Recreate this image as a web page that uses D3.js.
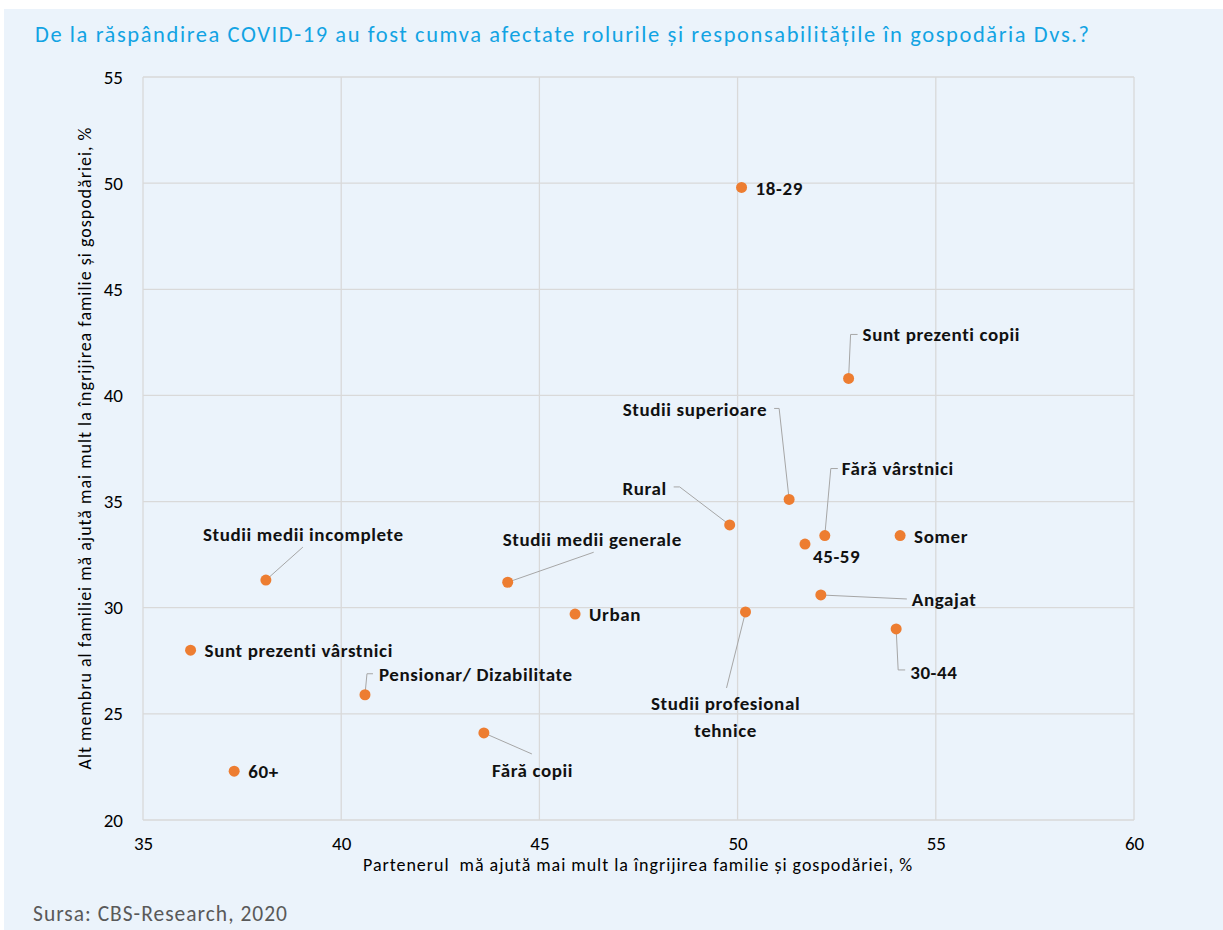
<!DOCTYPE html>
<html>
<head>
<meta charset="utf-8">
<script src="https://cdn.jsdelivr.net/npm/d3@7"></script>
<style>
  html, body { margin: 0; padding: 0; background: #ffffff; }
  svg { display: block; }
  text { font-family: Carlito, Calibri, Lato, "Open Sans", sans-serif; }
</style>
</head>
<body>
<svg id="chart" width="1223" height="930"></svg>
<script>
// ---- data ----
const categories = [
  "18-29", "Sunt prezenti copii", "Studii superioare", "Rural", "Fără vârstnici",
  "45-59", "Somer", "Angajat", "Studii profesional tehnice", "30-44",
  "Studii medii incomplete", "Studii medii generale", "Urban", "Sunt prezenti vârstnici",
  "Pensionar/ Dizabilitate", "Fără copii", "60+"
];
const xValues = [50.1, 52.8, 51.3, 49.8, 52.2, 51.7, 54.1, 52.1, 50.2, 54.0, 38.1, 44.2, 45.9, 36.2, 40.6, 43.6, 37.3];
const yValues = [49.8, 40.8, 35.1, 33.9, 33.4, 33.0, 33.4, 30.6, 29.8, 29.0, 31.3, 31.2, 29.7, 28.0, 25.9, 24.1, 22.3];
const xTicks = [35, 40, 45, 50, 55, 60];
const yTicks = [20, 25, 30, 35, 40, 45, 50, 55];
const titleText = "De la răspândirea COVID-19 au fost cumva afectate rolurile și responsabilitățile în gospodăria Dvs.?";
const xAxisTitle = "Partenerul  mă ajută mai mult la îngrijirea familie și gospodăriei, %";
const yAxisTitle = "Alt membru al familiei mă ajută mai mult la îngrijirea familie și gospodăriei, %";
const sourceText = "Sursa: CBS-Research, 2020";

// ---- label layout (pixel offsets from the point) ----
const labelLayout = [
  { dx: 14, dy: 1, anchor: "start" },
  { dx: 14, dy: -44, anchor: "start", leader: [[0,0],[2,-44],[9,-44]] },
  { dx: -22, dy: -90, anchor: "end", leader: [[0,0],[-10,-91],[-15,-91]] },
  { dx: -63, dy: -37, anchor: "end", leader: [[0,0],[-50,-38],[-56,-38]] },
  { dx: 17, dy: -67, anchor: "start", leader: [[0,0],[6,-67],[13,-67]] },
  { dx: 8, dy: 12, anchor: "start" },
  { dx: 14, dy: 1, anchor: "start" },
  { dx: 91, dy: 4, anchor: "start", leader: [[0,0],[86,4]] },
  { dx: -20, dy: 91, anchor: "middle", lines: ["Studii profesional", "tehnice"], leader: [[0,0],[-19,76]] },
  { dx: 14, dy: 43, anchor: "start", leader: [[0,0],[2,41],[9,41]] },
  { dx: -63, dy: -46, anchor: "start", leader: [[0,0],[37,-33]] },
  { dx: -5, dy: -43, anchor: "start", leader: [[0,0],[86,-30]] },
  { dx: 14, dy: 0, anchor: "start" },
  { dx: 14, dy: 0, anchor: "start" },
  { dx: 14, dy: -20, anchor: "start", leader: [[0,0],[2,-21],[8,-21]] },
  { dx: 8, dy: 37, anchor: "start", leader: [[0,0],[48,21]] },
  { dx: 14, dy: 0, anchor: "start" }
];

const svg = d3.select("#chart");
const W = 1223, H = 930;

// background panel
svg.append("rect").attr("x", 4).attr("y", 9).attr("width", W - 4).attr("height", H - 9).attr("fill", "#EBF3FB");

const margin = { left: 143, right: 1134, top: 77, bottom: 820 };
const x = d3.scaleLinear().domain([35, 60]).range([margin.left, margin.right]);
const y = d3.scaleLinear().domain([20, 55]).range([margin.bottom, margin.top]);

// gridlines
const grid = svg.append("g");
grid.selectAll("line.v").data(xTicks).join("line")
  .attr("x1", d => x(d)).attr("x2", d => x(d))
  .attr("y1", y(55)).attr("y2", y(20))
  .attr("stroke", "#D9D9D9").attr("stroke-width", 1.3);
grid.selectAll("line.h").data(yTicks).join("line")
  .attr("x1", x(35)).attr("x2", x(60))
  .attr("y1", d => y(d)).attr("y2", d => y(d))
  .attr("stroke", "#D9D9D9").attr("stroke-width", 1.3);

// axes (labels only)
const xAxis = d3.axisBottom(x).tickValues(xTicks).tickSize(0).tickPadding(17);
const gx = svg.append("g").attr("transform", `translate(0,${margin.bottom})`).call(xAxis);
gx.select(".domain").remove();
gx.selectAll("text").attr("font-size", 19).attr("fill", "#000").style("font-family", "Carlito, Calibri, Lato, sans-serif");

const yAxis = d3.axisLeft(y).tickValues(yTicks).tickSize(0).tickPadding(20);
const gy = svg.append("g").attr("transform", `translate(${margin.left},0)`).call(yAxis);
gy.select(".domain").remove();
gy.selectAll("text").attr("font-size", 19).attr("fill", "#000").style("font-family", "Carlito, Calibri, Lato, sans-serif");

// title
svg.append("text").attr("x", 35).attr("y", 42)
  .attr("font-size", 22.5).attr("font-weight", 300).attr("fill", "#12A3E3")
  .attr("textLength", 1054).attr("lengthAdjust", "spacing")
  .text(titleText);

// axis titles
svg.append("text").attr("x", 363).attr("y", 871)
  .attr("font-size", 18).attr("fill", "#000")
  .attr("textLength", 549).attr("lengthAdjust", "spacing")
  .style("white-space", "pre").attr("xml:space", "preserve")
  .text(xAxisTitle);
svg.append("text").attr("transform", `translate(91,${(margin.top + margin.bottom) / 2}) rotate(-90)`)
  .attr("x", -321).attr("font-size", 18).attr("fill", "#000")
  .attr("textLength", 642).attr("lengthAdjust", "spacing")
  .text(yAxisTitle);

// source
svg.append("text").attr("x", 33).attr("y", 921).attr("font-size", 21.5).attr("fill", "#595959")
  .attr("textLength", 254).attr("lengthAdjust", "spacing").text(sourceText);

const pts = categories.map((c, i) => ({ name: c, x: xValues[i], y: yValues[i], L: labelLayout[i] }));

// leaders
svg.append("g").selectAll("polyline").data(pts.filter(p => p.L.leader)).join("polyline")
  .attr("points", p => p.L.leader.map(([a, b]) => `${x(p.x) + a},${y(p.y) + b}`).join(" "))
  .attr("fill", "none").attr("stroke", "#A6A6A6").attr("stroke-width", 1);

// points
svg.append("g").selectAll("circle").data(pts).join("circle")
  .attr("cx", p => x(p.x)).attr("cy", p => y(p.y)).attr("r", 5.5).attr("fill", "#ED7D31");

// labels
const lg = svg.append("g");
pts.forEach(p => {
  const lines = p.L.lines || [p.name];
  const t = lg.append("text")
    .attr("x", x(p.x) + p.L.dx).attr("y", y(p.y) + p.L.dy)
    .attr("text-anchor", p.L.anchor).attr("font-size", 19).attr("font-weight", 700)
    .attr("letter-spacing", "0.6px").attr("fill", "#111");
  lines.forEach((ln, k) => {
    t.append("tspan").attr("x", x(p.x) + p.L.dx).attr("dy", k === 0 ? "0.35em" : "27px").text(ln);
  });
});
</script>
</body>
</html>
